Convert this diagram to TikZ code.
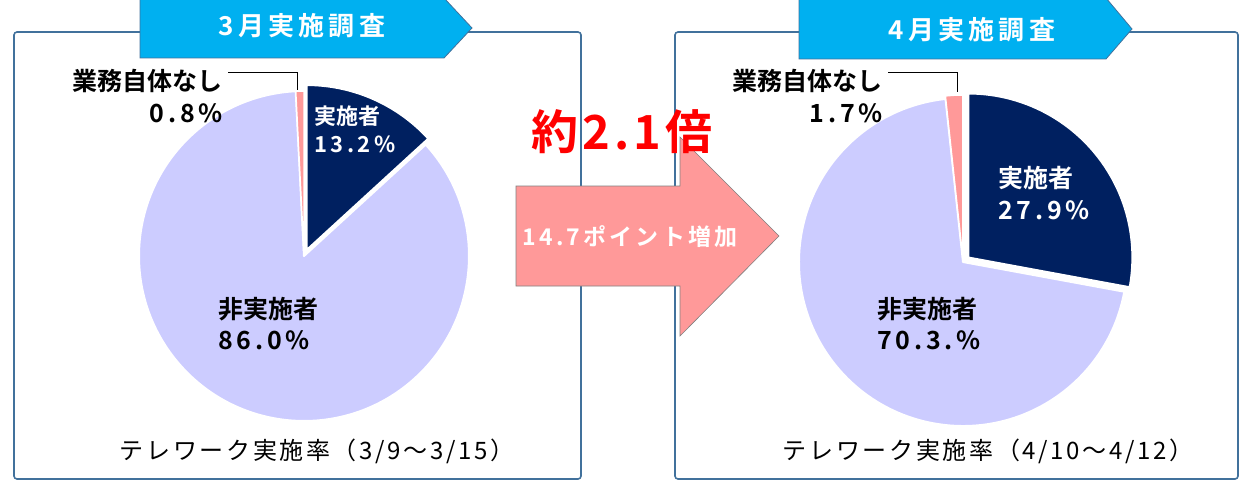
\documentclass[tikz,border=0pt]{standalone}
\usepackage{fontspec}
\setmainfont{Noto Sans CJK JP}[BoldFont={Noto Sans CJK JP Bold}]
\definecolor{box_blue}{HTML}{41719C}
\definecolor{tab_cyan}{HTML}{00B0F0}
\definecolor{navy_slice}{HTML}{002060}
\definecolor{lavender_slice}{HTML}{CCCCFF}
\definecolor{pink_slice}{HTML}{FF9999}

\begin{document}
\begin{tikzpicture}[
  x=1pt, y=-1pt,
  frame_box/.style={draw=box_blue, line width=1.6pt, rounded corners=3pt, fill=white},
  title_tab/.style={fill=tab_cyan, draw=box_blue, line width=0.8pt},
  tab_text/.style={inner sep=0pt, text=white, font=\bfseries\fontsize{26}{30}\selectfont\addfontfeature{LetterSpace=16}},
  slice_dark/.style={fill=navy_slice, draw=white, line width=2pt, line join=round},
  slice_light/.style={fill=lavender_slice, draw=white, line width=2pt, line join=round},
  slice_pink/.style={fill=pink_slice, draw=white, line width=1.5pt, line join=round},
  label_black/.style={inner sep=0pt, align=left, font=\bfseries\fontsize{25}{31}\selectfont},
  label_white/.style={inner sep=0pt, align=left, text=white, font=\bfseries\fontsize{22}{28}\selectfont},
  label_nashi/.style={inner ysep=0pt, inner xsep=5pt, align=right, font=\bfseries\fontsize{25}{32}\selectfont},
  leader/.style={draw=black, line width=0.8pt},
  caption_text/.style={inner sep=0pt, font=\fontsize{24}{28}\selectfont\addfontfeature{LetterSpace=11}},
  big_arrow/.style={fill=pink_slice, draw=gray, line width=0.6pt},
]
\useasboundingbox (0,0) rectangle (1250,484);

% panels
\draw[frame_box] (14,32) rectangle (581,479);
\draw[frame_box] (675,32) rectangle (1238,479);
\filldraw[title_tab] (140,-2) -- (444,-2) -- (472,28) -- (444,58) -- (140,58) -- cycle;
\filldraw[title_tab] (799,-2) -- (1106,-2) -- (1132,29) -- (1106,59) -- (799,59) -- cycle;
\draw (302,26) node (tab_mar) [tab_text] {3月実施調査};
\draw (972,30) node (tab_apr) [tab_text] {4月実施調査};

% March pie
\begin{scope}[shift={(304,256)}, yscale=-1]
  \filldraw[slice_light] (0,0) -- (42.48:165) arc[start angle=42.48, end angle=-267.12, radius=165] -- cycle;
  \filldraw[slice_pink] (0,0) -- (92.88:165) arc[start angle=92.88, end angle=90, radius=165] -- cycle;
  \filldraw[slice_dark] (66.24:6.5) -- +(90:165) arc[start angle=90, end angle=42.48, radius=165] -- cycle;
\end{scope}

% April pie
\begin{scope}[shift={(963,262)}, yscale=-1]
  \filldraw[slice_light] (0,0) -- (-10.44:164) arc[start angle=-10.44, end angle=-263.88, radius=164] -- cycle;
  \filldraw[slice_pink] (93:3) -- +(96.12:164) arc[start angle=96.12, end angle=90, radius=164] -- cycle;
  \filldraw[slice_dark] (39.78:7) -- +(90:164) arc[start angle=90, end angle=-10.44, radius=164] -- cycle;
\end{scope}

% labels, March
\draw (228,96) node (nashi_mar) [label_nashi, anchor=east] {業務自体なし\\\addfontfeature{LetterSpace=15}0.8\%};
\coordinate (nashi_mar_tip) at (297,90);
\draw[leader] ([shift={(0,-24)}]nashi_mar.east) -| (nashi_mar_tip);
\draw (314,129) node (done_mar) [label_white, anchor=west] {実施者\\\addfontfeature{LetterSpace=16}13.2\%};
\draw (218,324) node (notdone_mar) [label_black, anchor=west] {非実施者\\\addfontfeature{LetterSpace=15}86.0\%};
\draw (317,451) node (cap_mar) [caption_text] {テレワーク実施率（3/9～3/15）};

% labels, April
\draw (888,96) node (nashi_apr) [label_nashi, anchor=east] {業務自体なし\\\addfontfeature{LetterSpace=15}1.7\%};
\coordinate (nashi_apr_tip) at (957,92);
\draw[leader] ([shift={(0,-24)}]nashi_apr.east) -| (nashi_apr_tip);
\draw (998,193) node (done_apr) [label_white, anchor=west, font=\bfseries\fontsize{25}{32}\selectfont] {実施者\\\addfontfeature{LetterSpace=15}27.9\%};
\draw (877,324) node (notdone_apr) [label_black, anchor=west] {非実施者\\\addfontfeature{LetterSpace=15}70.3.\%};
\draw (988,451) node (cap_apr) [caption_text] {テレワーク実施率（4/10～4/12）};

% middle arrow
\filldraw[big_arrow] (516,186) -- (680,186) -- (680,137) -- (779,236) -- (680,336) -- (680,286) -- (516,286) -- cycle;
\draw (630,237) node (gain) [inner sep=0pt, text=white, font=\bfseries\fontsize{23}{28}\selectfont\addfontfeature{LetterSpace=14}] {14.7ポイント増加};
\draw (622,132) node (ratio) [inner sep=0pt, text=red, font=\bfseries\fontsize{47}{50}\selectfont\addfontfeature{LetterSpace=9}] {約2.1倍};
\end{tikzpicture}
\end{document}
